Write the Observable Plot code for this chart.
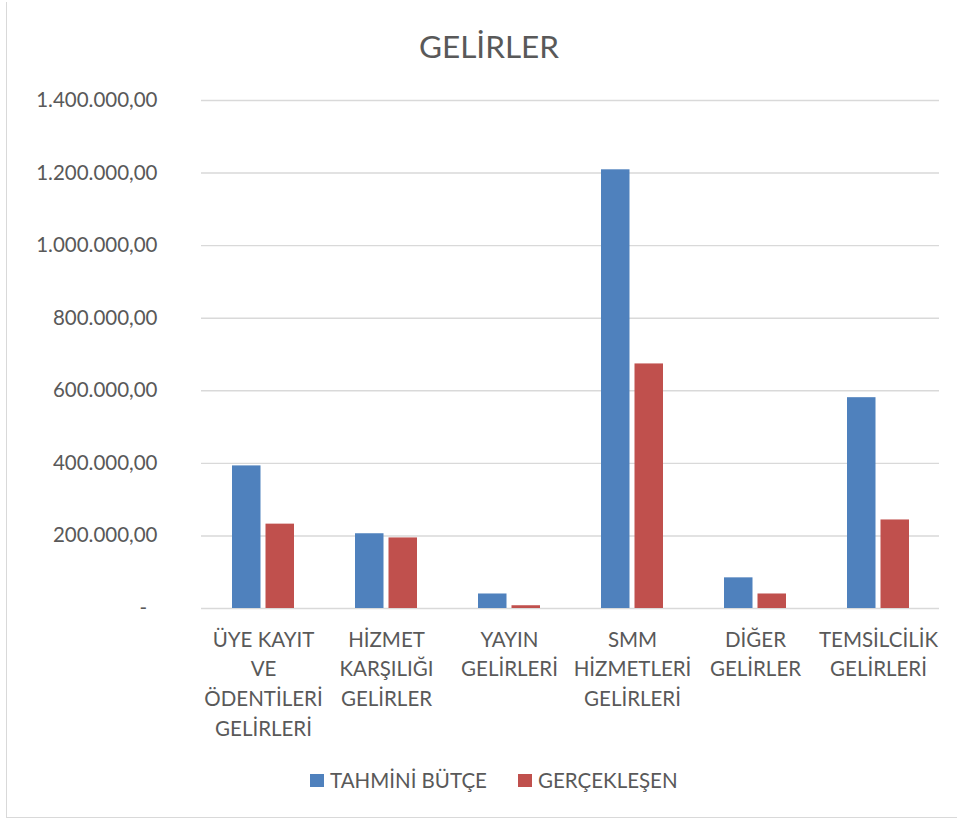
<!DOCTYPE html>
<html>
<head>
<meta charset="utf-8">
<script src="https://cdn.jsdelivr.net/npm/d3@7"></script>
<script src="https://cdn.jsdelivr.net/npm/@observablehq/plot@0.6"></script>
<style>
  html, body { margin: 0; padding: 0; background: #fff; }
  #wrap { position: relative; width: 957px; height: 820px; overflow: hidden; font-family: Lato, "Open Sans", sans-serif; color: #595959; }
  #frame { position: absolute; left: 6px; top: 2px; width: 1000px; height: 815px; border-left: 1.5px solid #d9d9d9; border-bottom: 1.5px solid #d9d9d9; }
  #title { position: absolute; left: 489px; top: 28px; transform: translateX(-50%); font-size: 31.5px; line-height: 36px; white-space: nowrap; }
  #chart { position: absolute; left: 0; top: 80px; }
  .leg { position: absolute; top: 768px; display: flex; align-items: center; font-size: 20.5px; line-height: 24px; white-space: nowrap; }
  .sw { width: 14px; height: 13px; margin-right: 6px; display: inline-block; }
</style>
</head>
<body>
<div id="wrap">
  <div id="frame"></div>
  <div id="title"></div>
  <div id="chart"></div>
  <div id="leg1" class="leg" style="left:310px"><span class="sw"></span><span class="tx"></span></div>
  <div id="leg2" class="leg" style="left:518px"><span class="sw"></span><span class="tx"></span></div>
</div>
<script>
const title = "GELİRLER";
const categories = [
  "ÜYE KAYIT VE ÖDENTİLERİ GELİRLERİ",
  "HİZMET KARŞILIĞI GELİRLER",
  "YAYIN GELİRLERİ",
  "SMM HİZMETLERİ GELİRLERİ",
  "DİĞER GELİRLER",
  "TEMSİLCİLİK GELİRLERİ"
];
const categoryLabels = [
  "ÜYE KAYIT\nVE\nÖDENTİLERİ\nGELİRLERİ",
  "HİZMET\nKARŞILIĞI\nGELİRLER",
  "YAYIN\nGELİRLERİ",
  "SMM\nHİZMETLERİ\nGELİRLERİ",
  "DİĞER\nGELİRLER",
  "TEMSİLCİLİK\nGELİRLERİ"
];
const seriesNames = ["TAHMİNİ BÜTÇE", "GERÇEKLEŞEN"];
const seriesColors = ["#4F81BD", "#C0504D"];
const tahminiButce = [393000, 206000, 40000, 1209000, 84500, 581000];
const gerceklesen = [232500, 194500, 7600, 674000, 40000, 244000];
const yTicks = [0, 200000, 400000, 600000, 800000, 1000000, 1200000, 1400000];

const data = categories.map((c, i) => ({category: c, label: categoryLabels[i], tahmini: tahminiButce[i], gercek: gerceklesen[i]}));
const labelOf = new Map(categories.map((c, i) => [c, categoryLabels[i]]));

const trLocale = d3.formatLocale({decimal: ",", thousands: ".", grouping: [3], currency: ["", ""]});
const fmt = trLocale.format(",.2f");
const yFormat = v => v === 0 ? "-\u00a0\u00a0" : fmt(v);

document.getElementById("title").textContent = title;

const bandInset = 33.5;
const chart = Plot.plot({
  width: 957,
  height: 680,
  marginTop: 20,
  marginBottom: 152,
  marginLeft: 201,
  marginRight: 18,
  style: {fontFamily: "Lato, 'Open Sans', sans-serif", color: "#595959", background: "transparent", overflow: "visible"},
  x: {type: "band", domain: categories, paddingInner: 0.5, paddingOuter: 0.25},
  y: {domain: [0, 1400000]},
  marks: [
    Plot.ruleY(yTicks, {stroke: "#d9d9d9", strokeWidth: 1.4}),
    Plot.barY(data, {x: "category", y: "tahmini", fill: seriesColors[0], insetRight: bandInset}),
    Plot.barY(data, {x: "category", y: "gercek", fill: seriesColors[1], insetLeft: bandInset}),
    Plot.axisY({ticks: yTicks, tickFormat: yFormat, tickSize: 0, tickPadding: 44, fontSize: 20.5, fill: "#595959", label: null}),
    Plot.axisX({tickFormat: d => labelOf.get(d), tickSize: 0, tickPadding: 17, fontSize: 20.5, lineHeight: 1.45, fill: "#595959", label: null})
  ]
});
document.getElementById("chart").appendChild(chart);

[["leg1", 0], ["leg2", 1]].forEach(([id, i]) => {
  const el = document.getElementById(id);
  el.querySelector(".sw").style.background = seriesColors[i];
  el.querySelector(".tx").textContent = seriesNames[i];
});
</script>
</body>
</html>
